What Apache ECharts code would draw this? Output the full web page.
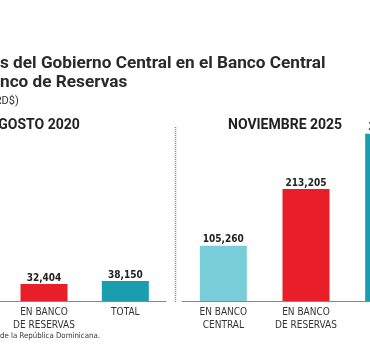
<!DOCTYPE html>
<html>
<head>
<meta charset="utf-8">
<script src="https://cdn.jsdelivr.net/npm/echarts@6/dist/echarts.min.js"></script>
<style>
	html, body { margin: 0; padding: 0; background: #fff; }
	#chart { width: 370px; height: 354px; }
</style>
</head>
<body>
<div id="chart"></div>
<script>
var categories = ['EN BANCO\nCENTRAL', 'EN BANCO\nDE RESERVAS', 'TOTAL'];
var values2020 = [5746, 32404, 38150];
var values2025 = [105260, 213205, 318465];
var barColors = ['#78CDD9', '#E81F28', '#1A9DAE'];
var panelTitles = ['AGOSTO 2020', 'NOVIEMBRE 2025'];

function loadChart(){
	var chart = echarts.init(document.getElementById('chart'));
	var font = '"Roboto", "Noto Sans", sans-serif';
	var narrow = '"DejaVu Sans Condensed", "Liberation Sans Narrow", "Roboto", sans-serif';

	function makeSeries(values, idx){
		return {
			type: 'bar',
			xAxisIndex: idx,
			yAxisIndex: idx,
			barWidth: 47,
			data: values.map(function(v, i){
				return { value: v, itemStyle: { color: barColors[i] } };
			}),
			label: {
				show: true,
				position: 'top',
				distance: 1,
				fontFamily: narrow,
				fontWeight: 'bold',
				fontSize: 10,
				lineHeight: 10,
				color: '#222',
				formatter: function(p){ return p.value.toLocaleString('en-US'); }
			}
		};
	}

	function makeXAxis(idx){
		return {
			type: 'category',
			gridIndex: idx,
			data: categories,
			axisTick: { show: false },
			axisLine: { lineStyle: { color: '#888', width: 1 } },
			axisLabel: {
				interval: 0,
				fontFamily: narrow,
				fontSize: 10,
				color: '#333',
				lineHeight: 13,
				margin: 5
			}
		};
	}

	function makeYAxis(idx){
		return {
			type: 'value',
			gridIndex: idx,
			min: 0,
			max: 320000,
			show: false,
			splitLine: { show: false }
		};
	}

	var option = {
		animation: false,
		title: [
			{
				text: 's del Gobierno Central en el Banco Central\nnco de Reservas',
				left: 0, top: 53.5, padding: 0,
				textStyle: { fontFamily: font, fontSize: 17.2, fontWeight: 'bold', color: '#2a2a2a', lineHeight: 19.5 }
			},
			{
				text: '(RD$)',
				left: -9, top: 96, padding: 0,
				textStyle: { fontFamily: font, fontSize: 11, fontWeight: 'normal', color: '#333' }
			},
			{
				text: panelTitles[0],
				left: -11, top: 118, padding: 0,
				textStyle: { fontFamily: font, fontSize: 14, fontWeight: 'bold', color: '#222' }
			},
			{
				text: panelTitles[1],
				left: 228, top: 118, padding: 0,
				textStyle: { fontFamily: font, fontSize: 14, fontWeight: 'bold', color: '#222' }
			},
			{
				text: 'de la República Dominicana.',
				left: 0, top: 332, padding: 0,
				textStyle: { fontFamily: narrow, fontSize: 7.8, fontWeight: 'normal', color: '#333' }
			}
		],
		grid: [
			{ left: -78, width: 244, top: 133, height: 168, containLabel: false, outerBoundsMode: 'none' },
			{ left: 182, width: 248, top: 133, height: 168, containLabel: false, outerBoundsMode: 'none' }
		],
		xAxis: [makeXAxis(0), makeXAxis(1)],
		yAxis: [makeYAxis(0), makeYAxis(1)],
		series: [makeSeries(values2020, 0), makeSeries(values2025, 1)],
		graphic: [
			{
				type: 'line',
				shape: { x1: 175.5, y1: 127, x2: 175.5, y2: 302 },
				style: { stroke: '#888', lineWidth: 1.5, lineDash: [1, 1] }
			}
		]
	};
	chart.setOption(option);
}
loadChart();
</script>
</body>
</html>
